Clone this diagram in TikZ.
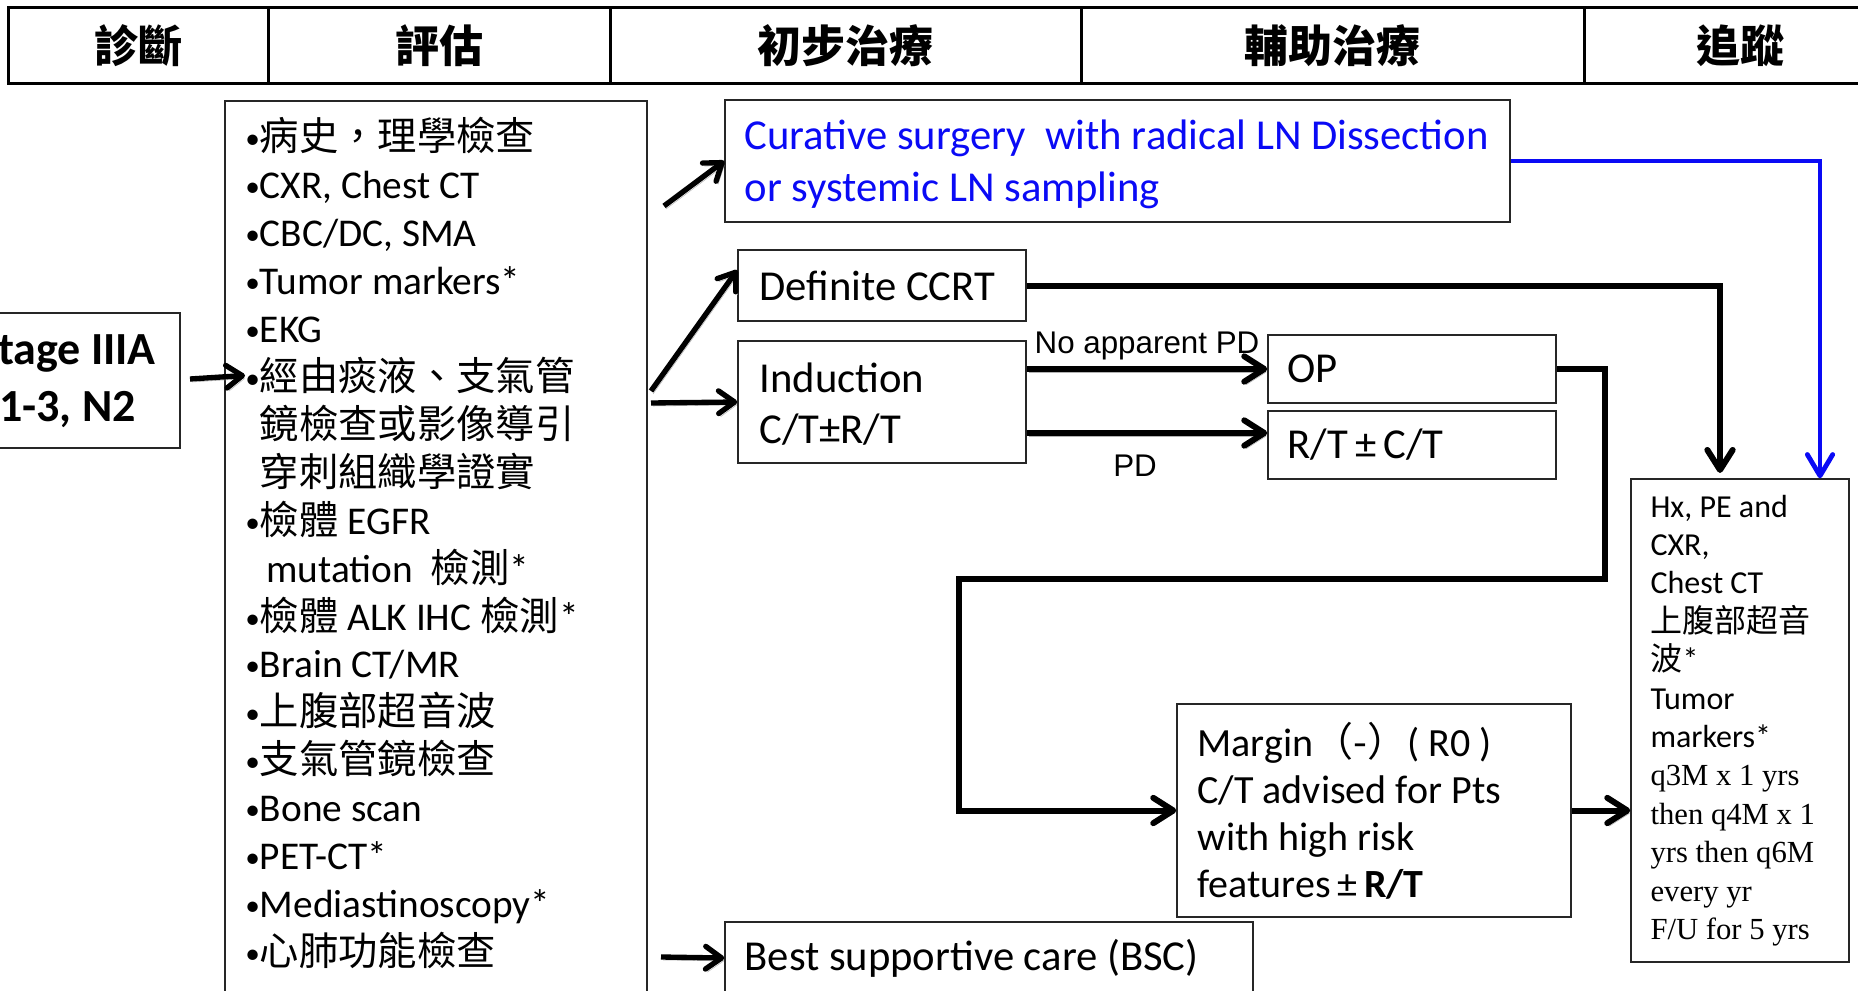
\documentclass[tikz,border=0pt]{standalone}
\usepackage{fontspec}
\setmainfont{Carlito}
\newfontfamily\cjk{Noto Sans CJK TC}
\newfontfamily\tms{Liberation Serif}
\newfontfamily\arl{Liberation Sans}
\usetikzlibrary{arrows.meta,calc}
\definecolor{cblue}{RGB}{10,10,245}
\newcommand\mybul{{\fontsize{22}{22}\selectfont\raisebox{1.5pt}{•}}}
\begin{document}
\begin{tikzpicture}[x=0.75pt,y=-0.75pt,
  box/.style={draw=black!85, line width=1.1pt, inner sep=0pt},
  hcell/.style={draw=black, line width=2.25pt, inner sep=0pt, minimum height=57pt,
    font=\cjk\bfseries\fontsize{33}{36}\selectfont},
  txt/.style={inner sep=0pt, anchor=west, align=left, font=\fontsize{32}{38}\selectfont},
  evt/.style={inner sep=0pt, anchor=base west, font=\fontsize{29.5}{36}\selectfont},
  lab/.style={inner sep=0pt, font=\arl\fontsize{23.5}{26}\selectfont},
  shd/.style={preaction={draw=black!30, transform canvas={shift={(1.5pt,-2.25pt)}}}},
  arrK/.style={line width=4pt, -{Straight Barb[length=12pt,width=17pt,round]}},
  arrD/.style={line width=4.5pt, -{Straight Barb[length=15pt,width=19pt,round]}},
  arrB/.style={draw=cblue, line width=3.6pt, -{Straight Barb[length=16pt,width=19pt,round]}},
]
\useasboundingbox (0,0) rectangle (1858,991);
\clip (0,0) rectangle (1858,991);

% header
\node[hcell, minimum width=195pt]   (h1) at (138,46)    {診斷};
\node[hcell, minimum width=256.5pt] (h2) at (439,46)    {評估};
\node[hcell, minimum width=353.25pt](h3) at (845.5,46)  {初步治療};
\node[hcell, minimum width=377.25pt](h4) at (1332.5,46) {輔助治療};
\node[hcell, minimum width=234pt]   (h5) at (1740,46)   {追蹤};

% stage box
\node[box, minimum width=180pt, minimum height=101.25pt] (stage) at (60,380.5) {};
\node[txt, font=\bfseries\fontsize{34.5}{43}\selectfont] (stagetext) at (-24,381) {Stage IIIA\\T1-3, N2};

% evaluation box
\node[box, minimum width=316.5pt, minimum height=711.75pt] (evalbox) at (436,575.5) {};
\foreach \t [count=\i] in {
  {\mybul{\cjk 病史，理學檢查}},
  {\mybul CXR, Chest CT},
  {\mybul CBC/DC, SMA},
  {\mybul Tumor markers*},
  {\mybul EKG},
  {\mybul{\cjk 經由痰液、支氣管}},
  {\phantom{\mybul}{\cjk 鏡檢查或影像導引}},
  {\phantom{\mybul}{\cjk 穿刺組織學證實}},
  {\mybul{\cjk 檢體} EGFR},
  {\phantom{\mybul}\,mutation\ \ {\cjk 檢測}*},
  {\mybul{\cjk 檢體} ALK IHC {\cjk 檢測}*},
  {\mybul Brain CT/MR},
  {\mybul{\cjk 上腹部超音波}},
  {\mybul{\cjk 支氣管鏡檢查}},
  {\mybul Bone scan},
  {\mybul PET-CT*},
  {\mybul Mediastinoscopy*},
  {\mybul{\cjk 心肺功能檢查}}}
  \node[evt, name=ev\i] at (245,{151+47.9*(\i-1)}) {\t};

% treatment boxes
\node[box, minimum width=588.75pt, minimum height=91.5pt] (cur) at (1117.5,161) {};
\node[txt, text=cblue, font=\fontsize{32}{39}\selectfont] (curtext) at ([xshift=15pt,yshift=-2.5pt]cur.west)
  {Curative surgery\ \ with radical LN Dissection\\or systemic LN sampling};

\node[box, minimum width=216pt, minimum height=53.25pt] (def) at (882,285.5) {};
\node[txt] (deftext) at ([xshift=16.5pt]def.west) {Definite CCRT};

\node[box, minimum width=216pt, minimum height=91.5pt] (ind) at (882,402) {};
\node[txt] (indtext) at ([xshift=16.5pt,yshift=-1.5pt]ind.west) {Induction\\C/T±R/T};

\node[box, minimum width=216pt, minimum height=51pt] (op) at (1412,369) {};
\node[txt] (optext) at ([xshift=15pt]op.west) {OP};

\node[box, minimum width=216pt, minimum height=51pt] (rt) at (1412,445) {};
\node[txt] (rttext) at ([xshift=15pt]rt.west) {R/T\,±\,C/T};

\node[box, minimum width=295.5pt, minimum height=159.75pt] (mar) at (1374,810.5) {};
\node[txt, font=\fontsize{30}{35.25}\selectfont] (martext) at ([xshift=15.75pt]mar.west)
  {Margin{\cjk （-）}( R0 )\\C/T advised for Pts\\with high risk\\features\,±\,\textbf{R/T}};

\node[box, minimum width=163.5pt, minimum height=362.25pt] (fu) at (1740,720.5) {};
\node[txt, font=\fontsize{24}{28.8}\selectfont] (futext) at ([xshift=15pt]fu.west)
  {Hx, PE and\\CXR,\\Chest CT\\{\cjk 上腹部超音}\\{\cjk 波}*\\Tumor\\markers*\\
   {\tms\fontsize{23}{28.8}\selectfont q3M x 1 yrs}\\{\tms\fontsize{23}{28.8}\selectfont then q4M x 1}\\
   {\tms\fontsize{23}{28.8}\selectfont yrs then q6M}\\{\tms\fontsize{23}{28.8}\selectfont every yr}\\
   {\tms\fontsize{23}{28.8}\selectfont F/U for 5 yrs}};

\node[box, minimum width=396pt, minimum height=54pt] (bsc) at (989,958) {};
\node[txt] (bsctext) at ([xshift=15pt]bsc.west) {Best supportive care (BSC)};

% labels
\node[lab] (lnopd) at (1147,346) {No apparent PD};
\node[lab] (lpd) at (1135,466) {PD};

% connector anchor points
\coordinate (sx) at (190,379);
\coordinate (e1) at (664,206);
\coordinate (e2) at (651,391);
\coordinate (e3) at (651,403);
\coordinate (e4) at (661,957);
\coordinate (defin) at ([yshift=11.6pt]def.west);
\coordinate (rtin) at ([yshift=9pt]rt.west);
\coordinate (fuA) at ([xshift=-15pt,yshift=4pt]fu.north);
\coordinate (fuB) at ([xshift=60pt]fu.north);
\coordinate (opx) at (1605,579);
\coordinate (marx) at (959,579);

% connectors
\draw[arrK, shd] (sx) -- (ev6.west);
\draw[arrK, shd] (e1) -- (cur.west);
\draw[arrK, shd] (e2) -- (defin);
\draw[arrK, shd] (e3) -- (ind.west);
\draw[arrK, shd] (e4) -- (bsc.west);
\draw[arrD, shd] (ind.east |- op.west) -- (op.west);
\draw[arrD, shd] (ind.east |- rtin) -- (rtin);
\draw[arrD] (def.east) -| (fuA);
\draw[arrB] (cur.east) -| (fuB);
\draw[arrD] (op.east) -| (opx) -- (marx) |- (mar.west);
\draw[arrD, shd] (mar.east) -- (fu.west |- mar.east);
\end{tikzpicture}
\end{document}
